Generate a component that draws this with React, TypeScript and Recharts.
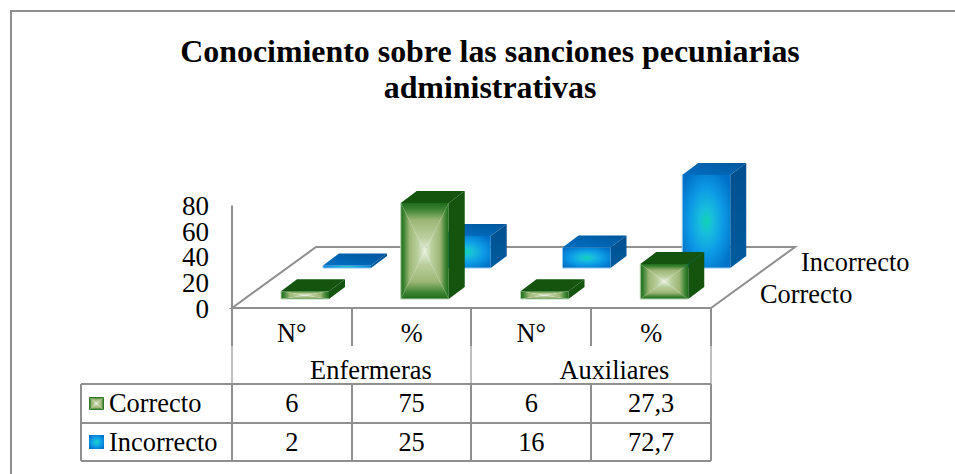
import { BarChart, Bar, XAxis, YAxis } from 'recharts';

const categories = ['N°', '%', 'N°', '%'];
const groups = ['Enfermeras', '', 'Auxiliares', ''];
const correcto = [6, 75, 6, 27.3];
const incorrecto = [2, 25, 16, 72.7];
const yTicks = [0, 20, 40, 60, 80];

const chartData = categories.map((name, i) => ({
  id: i,
  name,
  correcto: correcto[i],
  incorrecto: incorrecto[i],
}));

const FONT = '"Liberation Serif", "Times New Roman", serif';
const GRID = '#8f8f8f';
const GRID_SOFT = '#a8a8a8';
const BAR_W = 48;
const DEPTH_X = 16;
const DEPTH_Y = 12;

const fmt = (v: number) => String(v).replace('.', ',');

// draws one box; row offset pushes it back on the floor
function box(props: any, dx: number, dy: number, face: any, top: string, side: string, halo: string) {
  const { x, y, width: w, height: h } = props;
  const l = x + dx;
  const r = l + w;
  const t = y - dy;
  const b = t + h;
  return (
    <g>
      <polygon points={`${l},${t} ${r},${t} ${r + DEPTH_X},${t - DEPTH_Y} ${l + DEPTH_X},${t - DEPTH_Y}`} fill={top} />
      <polygon points={`${r},${t} ${r + DEPTH_X},${t - DEPTH_Y} ${r + DEPTH_X},${b - DEPTH_Y} ${r},${b}`} fill={side} />
      {face(l, t, w, h)}
      <polyline points={`${l},${t} ${l},${b} ${r},${b}`} fill="none" stroke={halo} strokeWidth={1} />
    </g>
  );
}

function greenFace(l: number, t: number, w: number, h: number) {
  const r = l + w;
  const b = t + h;
  const cx = l + w / 2;
  const cy = t + h / 2;
  return (
    <g stroke="none">
      <polygon points={`${l},${t} ${r},${t} ${cx},${cy}`} fill="url(#gT)" />
      <polygon points={`${l},${b} ${r},${b} ${cx},${cy}`} fill="url(#gB)" />
      <polygon points={`${l},${t} ${l},${b} ${cx},${cy}`} fill="url(#gL)" />
      <polygon points={`${r},${t} ${r},${b} ${cx},${cy}`} fill="url(#gR)" />
    </g>
  );
}

function blueFace(l: number, t: number, w: number, h: number) {
  return <rect x={l} y={t} width={w} height={h} fill="url(#blueFace)" />;
}

const GreenBox = (props: any) => box(props, 13, 9, greenFace, '#14540f', '#14540f', '#b9d4b4');
const BlueBox = (props: any) => box(props, 55, 40, blueFace, 'url(#blueTop)', 'url(#blueSide)', '#8fc8ee');

function TableTick(props: any) {
  const { x, index } = props;
  const common = { fontFamily: FONT, fontSize: 26.4, fill: '#000', textAnchor: 'middle' as const };
  return (
    <g>
      <text {...common} x={x} y={342}>{categories[index]}</text>
      {groups[index] && (
        <text {...common} x={index === 0 ? x + 79 : x + 83} y={379}>{groups[index]}</text>
      )}
      <text {...common} x={x} y={412}>{fmt(correcto[index])}</text>
      <text {...common} x={x} y={451}>{fmt(incorrecto[index])}</text>
    </g>
  );
}

function stops(rows: [number, string][]) {
  return rows.map(([o, c]) => <stop key={o} offset={o} stopColor={c} />);
}

const greenStops: [number, string][] = [
  [0, '#1d6c1a'],
  [0.14, '#3f8534'],
  [0.36, '#9db676'],
  [0.72, '#bbcf9e'],
  [1, '#e8f0de'],
];
const blueStops: [number, string][] = [
  [0, '#10d2b4'],
  [0.22, '#18bedc'],
  [0.55, '#0d9ce6'],
  [1, '#0070c8'],
];

export default function App() {
  return (
    <div style={{ position: 'absolute', left: 0, top: 0, width: 955, height: 474, background: '#fff' }}>
      <BarChart
        width={955}
        height={474}
        data={chartData}
        margin={{ top: 205.6, right: 244, bottom: 0, left: 0 }}
        barSize={BAR_W}
        barGap={-BAR_W}
        barCategoryGap={0}
      >
        <defs>
          <linearGradient id="gT" x1="0" y1="0" x2="0" y2="1">{stops(greenStops)}</linearGradient>
          <linearGradient id="gB" x1="0" y1="1" x2="0" y2="0">{stops(greenStops)}</linearGradient>
          <linearGradient id="gL" x1="0" y1="0" x2="1" y2="0">{stops(greenStops)}</linearGradient>
          <linearGradient id="gR" x1="1" y1="0" x2="0" y2="0">{stops(greenStops)}</linearGradient>
          <radialGradient id="blueFace" cx="0.5" cy="0.5" r="0.62">{stops(blueStops)}</radialGradient>
          <linearGradient id="blueTop" x1="0" y1="1" x2="1" y2="0">
            <stop offset={0} stopColor="#0070c4" />
            <stop offset={1} stopColor="#00569c" />
          </linearGradient>
          <linearGradient id="blueSide" x1="0" y1="0" x2="0" y2="1">
            <stop offset={0} stopColor="#004f8f" />
            <stop offset={1} stopColor="#005c9e" />
          </linearGradient>
        </defs>

        {/* frame */}
        <polyline points="11,474 11,11 955,11" fill="none" stroke={GRID} strokeWidth={2} />

        {/* title */}
        <g fontFamily={FONT} fontWeight="bold" fontSize={31.9} textAnchor="middle" fill="#000">
          <text x={490} y={62}>Conocimiento sobre las sanciones pecuniarias</text>
          <text x={490} y={98}>administrativas</text>
        </g>

        {/* floor */}
        <polygon points="232,308 316,247 795,247 711,308" fill="#fff" stroke={GRID} strokeWidth={2} />

        {/* series names on the depth axis */}
        <g fontFamily={FONT} fontSize={26.4} fill="#000">
          <text x={801} y={271}>Incorrecto</text>
          <text x={760} y={303}>Correcto</text>
        </g>

        {/* data table grid */}
        <g stroke={GRID_SOFT} strokeWidth={1.5} fill="none">
          <line x1={232} y1={346} x2={232} y2={384} />
          <line x1={471} y1={346} x2={471} y2={384} />
          <line x1={711} y1={346} x2={711} y2={384} />
        </g>
        <g stroke={GRID} strokeWidth={2} fill="none">
          <line x1={232} y1={308} x2={232} y2={346} />
          <line x1={352} y1={308} x2={352} y2={346} />
          <line x1={471} y1={308} x2={471} y2={346} />
          <line x1={591} y1={308} x2={591} y2={346} />
          <line x1={711} y1={308} x2={711} y2={346} />
          <line x1={232} y1={384} x2={232} y2={461} />
          <line x1={352} y1={384} x2={352} y2={461} />
          <line x1={471} y1={384} x2={471} y2={461} />
          <line x1={591} y1={384} x2={591} y2={461} />
          <line x1={711} y1={384} x2={711} y2={461} />
          <line x1={81} y1={384} x2={81} y2={461} />
          <line x1={81} y1={384} x2={711} y2={384} />
          <line x1={81} y1={423} x2={711} y2={423} />
          <line x1={81} y1={461} x2={711} y2={461} />
        </g>

        {/* legend keys and row names */}
        {greenFace(89, 397, 15, 13)}
        {blueFace(89, 435, 15, 14)}
        <g fontFamily={FONT} fontSize={26.4} fill="#000">
          <text x={109} y={412}>Correcto</text>
          <text x={109} y={451}>Incorrecto</text>
        </g>

        <XAxis
          dataKey="id"
          type="category"
          height={166}
          interval={0}
          tickLine={false}
          tickSize={0}
          axisLine={{ stroke: GRID, strokeWidth: 2 }}
          tick={<TableTick />}
        />
        <YAxis
          width={232}
          domain={[0, 80]}
          ticks={yTicks}
          interval={0}
          tickLine={false}
          tickSize={0}
          tickMargin={23}
          axisLine={{ stroke: GRID, strokeWidth: 2 }}
          tick={{ fontFamily: FONT, fontSize: 27, fill: '#000' }}
        />
        <Bar dataKey="incorrecto" name="Incorrecto" fill="#0a8fe0" shape={BlueBox} isAnimationActive={false} />
        <Bar dataKey="correcto" name="Correcto" fill="#1d6c1a" shape={GreenBox} isAnimationActive={false} />
      </BarChart>
    </div>
  );
}
